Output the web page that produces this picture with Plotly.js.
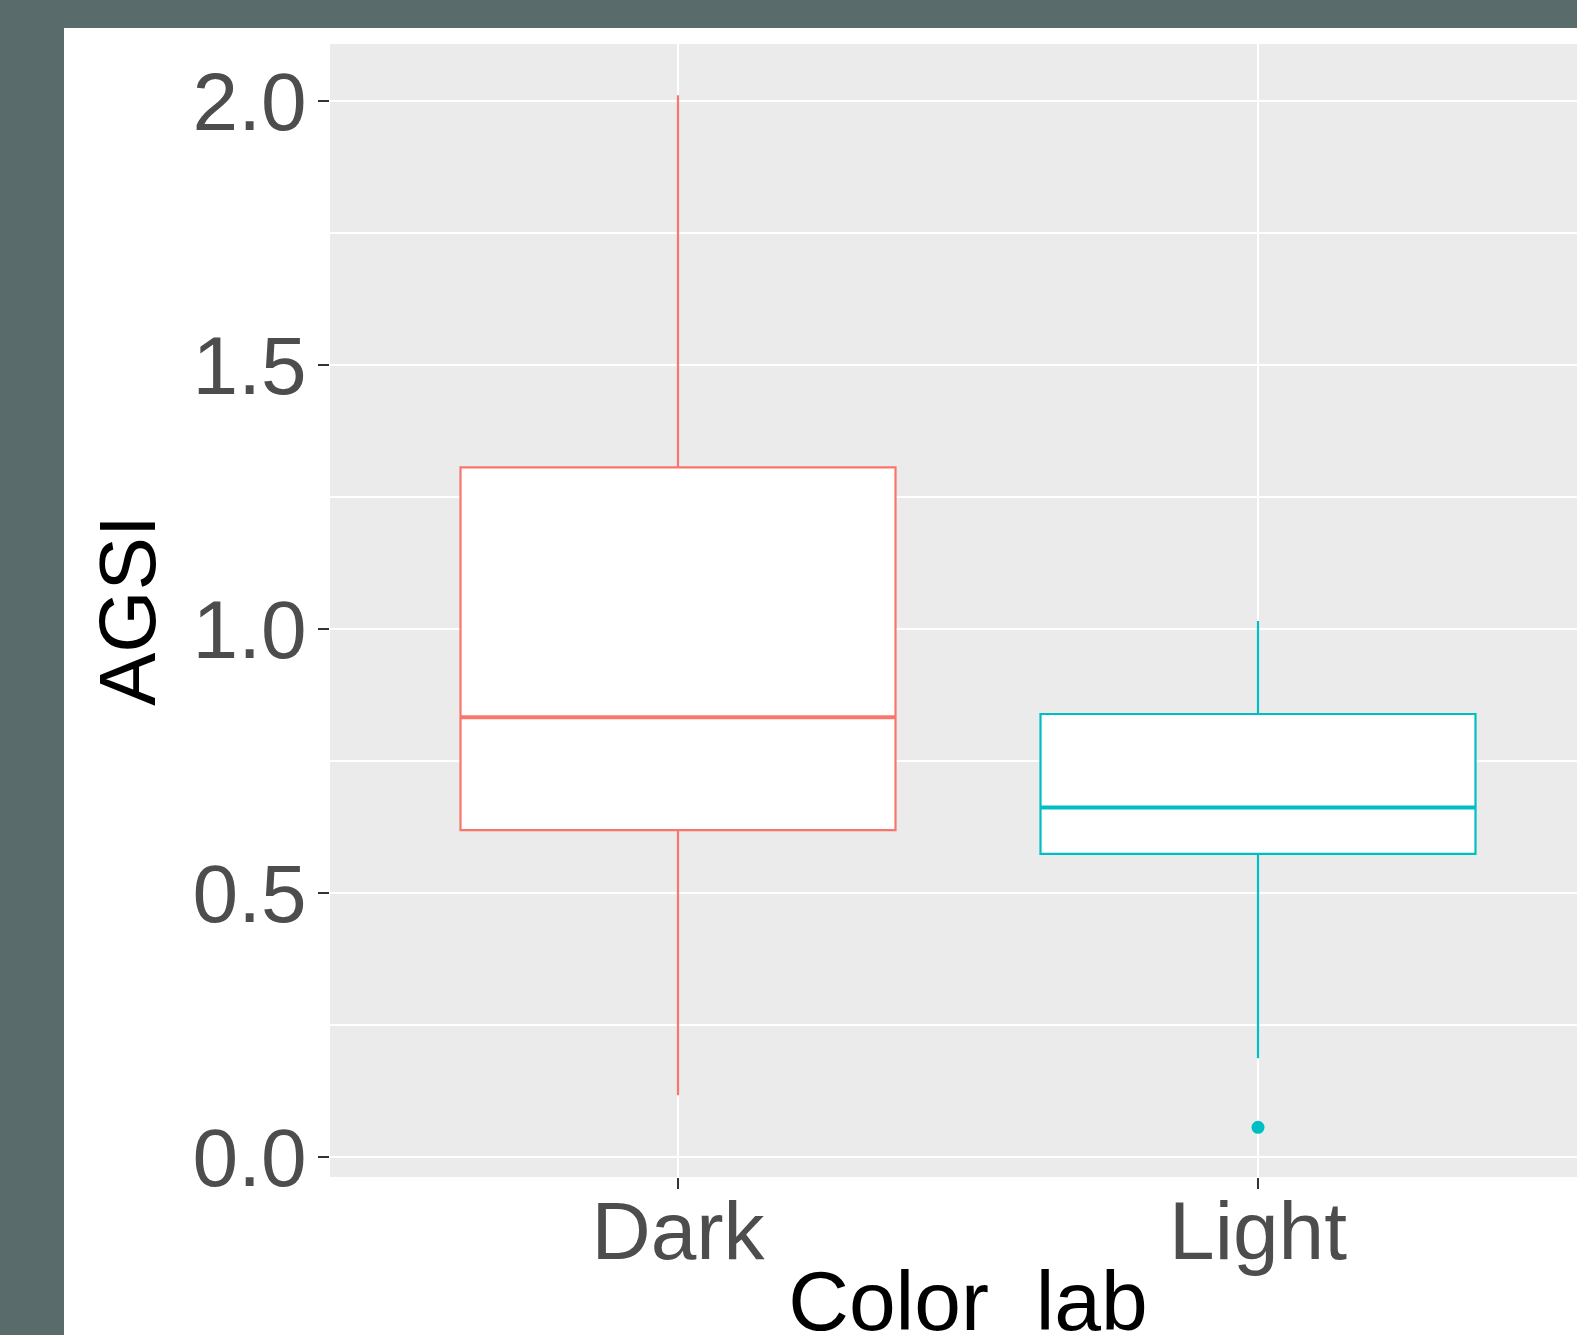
<!DOCTYPE html>
<html>
<head>
<meta charset="utf-8">
<script src="https://cdn.plot.ly/plotly-3.0.1.min.js"></script>
<style>
html, body { margin:0; padding:0; overflow:hidden; background:#5a6b6b; width:1577px; height:1335px; }
#chart { position:absolute; left:64px; top:28px; }
</style>
</head>
<body>
<div id="chart"></div>
<script>
// Data
const categories = ["Dark", "Light"];
const positions = [0, 1];
const q1Values = [0.619, 0.574];
const medianValues = [0.833, 0.662];
const q3Values = [1.306, 0.839];
const lowerWhisker = [0.117, 0.187];
const upperWhisker = [2.011, 1.015];
const outlierCategoryIndex = [1];
const outlierValues = [0.056];
const colors = ["#F8766D", "#00BFC4"];
const yTickVals = [0, 0.5, 1.0, 1.5, 2.0];
const yTickText = ["0.0", "0.5", "1.0", "1.5", "2.0"];

const boxWidth = 0.75;
const traces = [];
categories.forEach((c, i) => {
  traces.push({
    type: "box",
    name: c,
    x: [positions[i]],
    q1: [q1Values[i]],
    median: [medianValues[i]],
    q3: [q3Values[i]],
    lowerfence: [lowerWhisker[i]],
    upperfence: [upperWhisker[i]],
    width: boxWidth,
    whiskerwidth: 0,
    fillcolor: "#FFFFFF",
    line: { color: colors[i], width: 2.2 },
    boxpoints: false,
    hoverinfo: "skip",
    showlegend: false
  });
  traces.push({
    type: "scatter",
    mode: "lines",
    x: [positions[i] - boxWidth / 2, positions[i] + boxWidth / 2],
    y: [medianValues[i], medianValues[i]],
    line: { color: colors[i], width: 4 },
    hoverinfo: "skip",
    showlegend: false
  });
});
traces.push({
  type: "scatter",
  mode: "markers",
  x: outlierCategoryIndex.map(k => positions[k]),
  y: outlierValues,
  marker: { color: outlierCategoryIndex.map(k => colors[k]), size: 13 },
  hoverinfo: "skip",
  showlegend: false
});

const W = 1600, H = 1320;
const layout = {
  width: W,
  height: H,
  margin: { l: 266, r: 58, t: 16, b: 171, pad: 0 },
  paper_bgcolor: "#FFFFFF",
  plot_bgcolor: "#EBEBEB",
  font: { family: "Liberation Sans, Arial, sans-serif", color: "#4D4D4D" },
  showlegend: false,
  xaxis: {
    range: [-0.6, 1.6],
    tickmode: "array",
    tickvals: positions,
    ticktext: categories,
    showgrid: true,
    gridcolor: "#FFFFFF",
    gridwidth: 2.2,
    zeroline: false,
    showline: false,
    ticks: "outside",
    ticklen: 11,
    tickwidth: 2,
    tickcolor: "#333333",
    ticklabelstandoff: -28,
    tickfont: { size: 82, color: "#4D4D4D" },
    title: { text: "Color_lab", font: { size: 84, color: "#000000" }, standoff: 38 },
    automargin: false,
    fixedrange: true
  },
  yaxis: {
    range: [-0.038, 2.108],
    tickmode: "array",
    tickvals: yTickVals,
    ticktext: yTickText,
    showgrid: true,
    gridcolor: "#FFFFFF",
    gridwidth: 2.2,
    minor: { dtick: 0.25, tick0: 0.25, showgrid: true, gridcolor: "#FFFFFF", gridwidth: 1.1, ticks: "" },
    zeroline: false,
    showline: false,
    ticks: "outside",
    ticklen: 11,
    tickwidth: 2,
    tickcolor: "#333333",
    ticklabelstandoff: -5,
    tickfont: { size: 82, color: "#4D4D4D" },
    title: { text: "AGSI", font: { size: 80, color: "#000000" }, standoff: 10 },
    automargin: false,
    fixedrange: true
  }
};

Plotly.newPlot("chart", traces, layout, { displayModeBar: false, staticPlot: true });
</script>
</body>
</html>
